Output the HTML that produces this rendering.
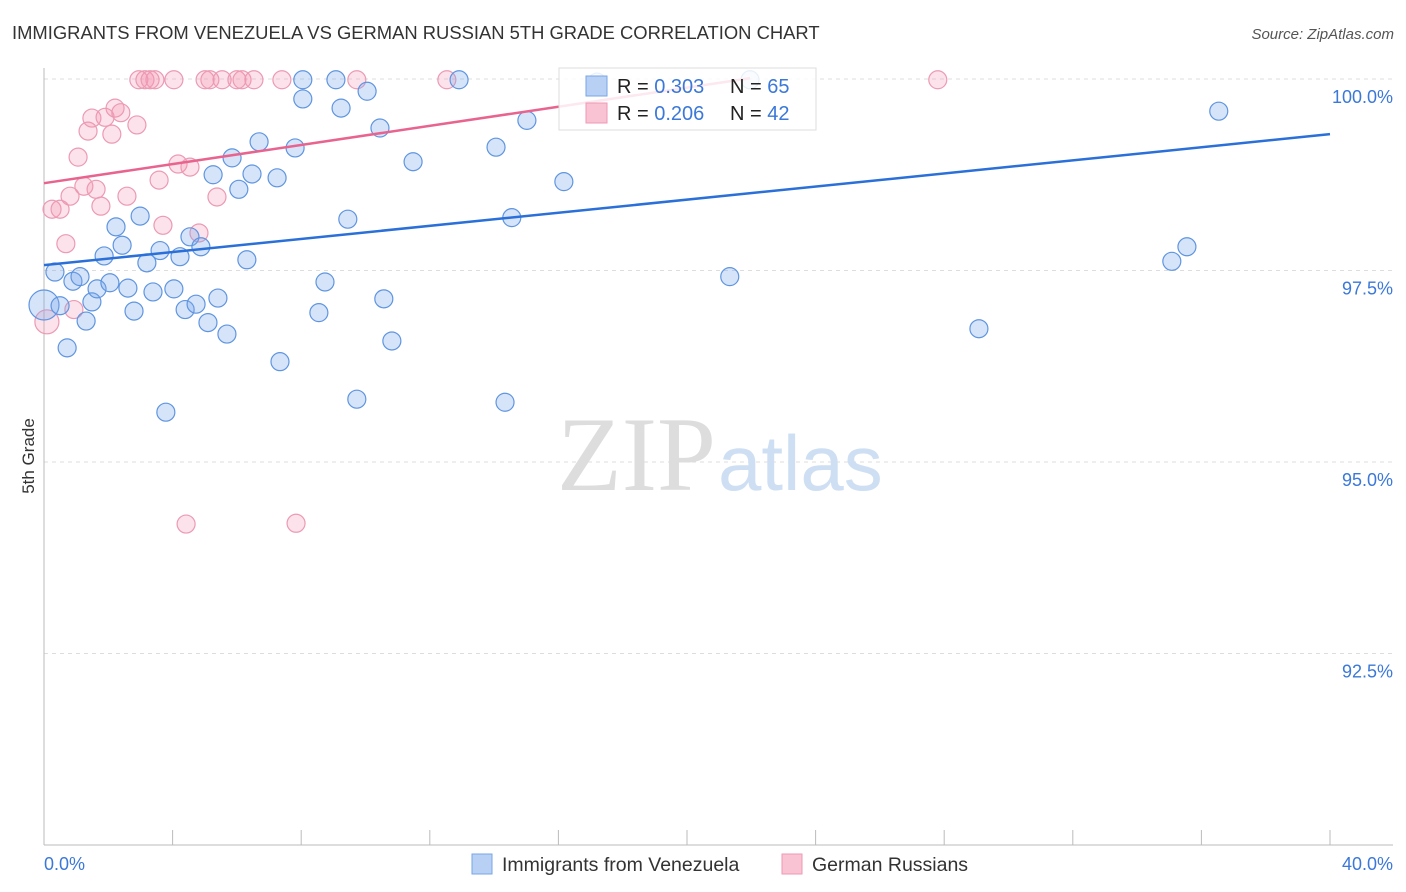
<!DOCTYPE html>
<html><head><meta charset="utf-8"><style>
body{margin:0;background:#fff;font-family:"Liberation Sans",sans-serif;}
svg{display:block}
</style></head><body>
<svg width="1406" height="892" id="chart">
<text x="12" y="39" font-size="18.4" fill="#333">IMMIGRANTS FROM VENEZUELA VS GERMAN RUSSIAN 5TH GRADE CORRELATION CHART</text>
<text x="1394" y="39" font-size="15" fill="#555" font-style="italic" text-anchor="end">Source: ZipAtlas.com</text>
<text x="34" y="456" font-size="17" fill="#333" text-anchor="middle" transform="rotate(-90 34 456)">5th Grade</text>
<g id="grid"></g>
<text x="716" y="490" font-size="106" fill="#ddd" text-anchor="end" font-family="Liberation Serif,serif">ZIP</text>
<text x="718" y="490" font-size="78" fill="#cfdff3">atlas</text>
<line x1="44" y1="68" x2="44" y2="845" stroke="#bbb"/>
<line x1="44" y1="845" x2="1393" y2="845" stroke="#bbb"/>
<g id="xticks"></g>
<g id="ylabels"></g>
<g id="pts"></g>
<g id="trends"></g>
<text x="44" y="870" font-size="18" fill="#3b78d8">0.0%</text>
<text x="1393" y="870" font-size="18" fill="#3b78d8" text-anchor="end">40.0%</text>
<g>
<rect x="559" y="68" width="257" height="62" fill="#fff" fill-opacity="0.85" stroke="#ddd"/>
<rect x="586" y="76" width="21" height="20" fill="#b7d0f4" stroke="#7aa6e6"/>
<rect x="586" y="103" width="21" height="20" fill="#f9c3d3" stroke="#ee9ab4"/>
<text x="617" y="93" font-size="20" fill="#222">R = <tspan fill="#3b78d8">0.303</tspan></text>
<text x="730" y="93" font-size="20" fill="#222">N = <tspan fill="#3b78d8">65</tspan></text>
<text x="617" y="120" font-size="20" fill="#222">R = <tspan fill="#3b78d8">0.206</tspan></text>
<text x="730" y="120" font-size="20" fill="#222">N = <tspan fill="#3b78d8">42</tspan></text>
</g>
<g>
<rect x="472" y="854" width="20" height="20" fill="#b7d0f4" stroke="#7aa6e6"/>
<text x="502" y="871" font-size="19.5" fill="#333">Immigrants from Venezuela</text>
<rect x="782" y="854" width="20" height="20" fill="#f9c3d3" stroke="#ee9ab4"/>
<text x="812" y="871" font-size="19.5" fill="#333">German Russians</text>
</g>
</svg>
<script>
const yTicks=[100,97.5,95,92.5];
const yTickLabels=["100.0%","97.5%","95.0%","92.5%"];
const xTickVals=[0,4,8,12,16,20,24,28,32,36,40];
const blueX=[0.34,0,0.5,0.72,0.9,1.12,1.31,1.49,1.65,1.87,2.05,2.24,2.43,2.61,2.8,2.99,3.2,3.39,3.61,3.79,4.04,4.23,4.39,4.54,4.73,4.88,5.1,5.26,5.41,5.69,5.85,6.06,6.31,6.47,6.69,7.25,7.34,7.81,8.05,8.05,8.55,8.74,9.08,9.24,9.45,9.73,10.05,10.45,10.57,10.82,11.48,12.91,14.06,14.34,14.55,15.02,16.17,17.2,21.33,21.96,29.08,35.08,35.55,36.54];
const blueY=[97.48,97.05,97.04,96.49,97.36,97.42,96.84,97.09,97.26,97.69,97.34,98.07,97.83,97.27,96.97,98.21,97.6,97.22,97.76,95.65,97.26,97.68,96.99,97.94,97.06,97.81,96.82,98.75,97.14,96.67,98.97,98.56,97.64,98.76,99.18,98.71,96.31,99.1,99.99,99.74,96.95,97.35,99.99,99.62,98.17,95.82,99.84,99.36,97.13,96.58,98.92,99.99,99.11,95.78,98.19,99.46,98.66,99.96,97.42,99.99,96.74,97.62,97.81,99.58];
const pinkX=[2.95,3.14,3.3,3.45,4.04,5.01,5.16,5.54,6.0,6.16,6.53,7.4,9.73,12.53,27.8,0.09,0.25,0.5,0.68,0.81,0.93,1.06,1.24,1.37,1.49,1.62,1.77,1.9,2.11,2.21,2.39,2.58,2.89,3.58,3.7,4.17,4.54,4.82,5.38,4.42,7.84];
const pinkY=[99.99,99.99,99.99,99.99,99.99,99.99,99.99,99.99,99.99,99.99,99.99,99.99,99.99,99.99,99.99,96.83,98.3,98.3,97.85,98.47,96.99,98.98,98.6,99.32,99.49,98.56,98.34,99.5,99.28,99.62,99.56,98.47,99.4,98.68,98.09,98.89,98.85,97.99,98.46,94.19,94.2];
const blueTrend=[[0,97.57],[40,99.28]];
const pinkTrend=[[0,98.64],[21.96,100.01]];
const NS="http://www.w3.org/2000/svg";
const xs=v=>44+v/40*1286;
const ys=v=>79+(100-v)/2.5*191.5;
function mk(tag,attrs,parent){const e=document.createElementNS(NS,tag);for(const k in attrs)e.setAttribute(k,attrs[k]);parent.appendChild(e);return e;}
const grid=document.getElementById('grid'),yl=document.getElementById('ylabels');
yTicks.forEach((t,i)=>{
 const l=mk('line',{x1:44,x2:1393,y1:ys(t),y2:ys(t),stroke:'#ddd','stroke-dasharray':'4,4'},grid);
 
 
 const tx=mk('text',{x:1393,y:ys(t)+24,'font-size':18,fill:'#3b78d8','text-anchor':'end'},yl);
 tx.textContent=yTickLabels[i];
 
 
});
const xt=document.getElementById('xticks');
xTickVals.forEach(v=>{
 const l=mk('line',{x1:xs(v),x2:xs(v),y1:830,y2:845,stroke:'#bbb'},xt);
 
 
});
const pts=document.getElementById('pts');
function drawPts(X,Y,fill,stroke,name,bigIdx,bigR){
 X.forEach((x,i)=>{
  const r=(i===bigIdx)?bigR:9;
  const c=mk('circle',{cx:xs(x),cy:ys(Y[i]),r:r,fill:fill,stroke:stroke,'stroke-width':1.2},pts);
  
  
 });
}
drawPts(pinkX,pinkY,'rgba(245,150,180,0.28)','#ec9ab3','german-russian-point',15,12);
drawPts(blueX,blueY,'rgba(120,165,235,0.3)','#5f95e0','venezuela-point',1,15);
const tr=document.getElementById('trends');
const bl=mk('line',{x1:xs(blueTrend[0][0]),y1:ys(blueTrend[0][1]),x2:xs(blueTrend[1][0]),y2:ys(blueTrend[1][1]),stroke:'#2a70d8','stroke-width':2.5},tr);


const pl=mk('line',{x1:xs(pinkTrend[0][0]),y1:ys(pinkTrend[0][1]),x2:xs(pinkTrend[1][0]),y2:ys(pinkTrend[1][1]),stroke:'#e8648f','stroke-width':2.5},tr);


</script>
</body></html>
